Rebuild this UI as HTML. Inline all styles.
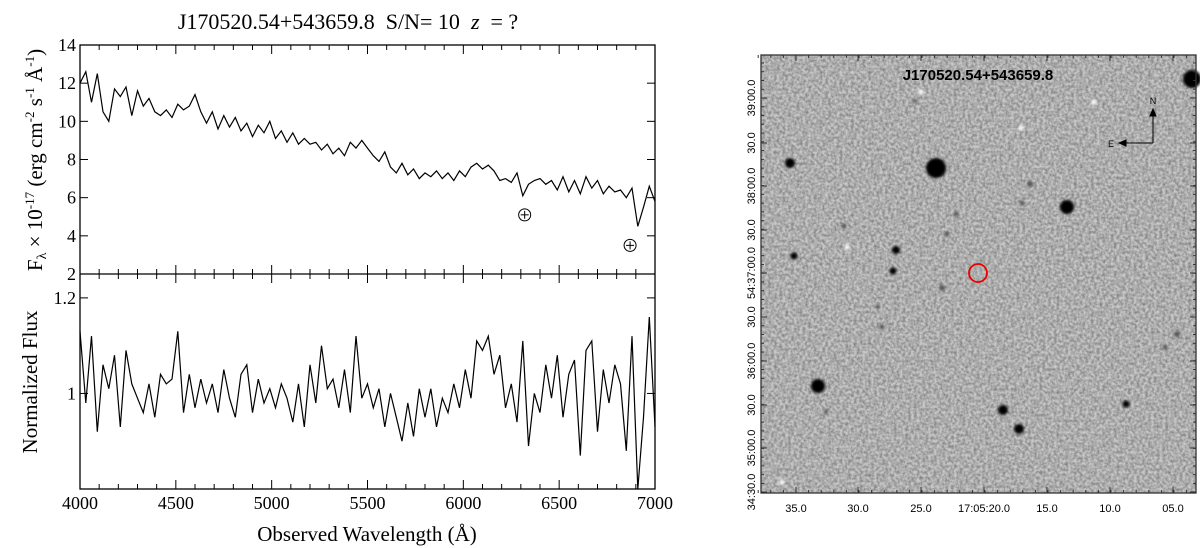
<!DOCTYPE html>
<html><head><meta charset="utf-8"><style>
body{margin:0;background:#fff;width:1200px;height:548px;overflow:hidden}
svg{position:absolute;left:0;top:0}
</style></head><body>
<svg id="s" width="1200" height="548" xmlns="http://www.w3.org/2000/svg">
<defs>
<filter id="noise" x="0" y="0" width="100%" height="100%" color-interpolation-filters="sRGB">
<feTurbulence type="fractalNoise" baseFrequency="0.35" numOctaves="2" seed="3"/>
<feColorMatrix type="matrix" values="1.6 0 0 0 -0.15  1.6 0 0 0 -0.15  1.6 0 0 0 -0.15  0 0 0 0 1"/>
</filter>
<filter id="blur"><feGaussianBlur stdDeviation="1.2"/></filter>
</defs>
<g id="spec" font-family="Liberation Serif, serif" fill="#000"></g>
<g id="img" font-family="Liberation Sans, sans-serif"></g>
</svg>
<script>
const waveStart=4000, waveStep=30;
const fluxTop=[12.0,12.6,11.0,12.5,10.5,10.0,11.7,11.3,11.8,10.3,
11.6,10.8,11.2,10.5,10.3,10.6,10.2,10.9,10.6,10.8,
11.4,10.5,9.9,10.5,9.6,10.3,9.7,10.2,9.5,9.9,
9.2,9.8,9.4,10.0,9.1,9.5,8.9,9.4,8.8,9.1,
8.8,8.9,8.5,8.8,8.3,8.6,8.2,8.9,8.6,9.0,
8.6,8.2,7.9,8.4,7.6,7.3,7.8,7.2,7.5,7.0,
7.3,7.1,7.4,7.0,7.3,6.9,7.4,7.1,7.6,7.8,
7.5,7.7,7.4,6.9,7.0,6.8,7.3,6.1,6.7,6.9,
7.0,6.7,6.9,6.4,7.1,6.3,6.9,6.2,7.1,6.5,
6.9,6.2,6.6,6.3,6.4,6.0,6.5,4.5,5.5,6.6,5.8];
const fluxNorm=[1.13,0.98,1.12,0.92,1.06,1.01,1.08,0.93,1.09,1.02,
0.99,0.96,1.02,0.95,1.04,1.02,1.03,1.13,0.96,1.04,
0.97,1.03,0.98,1.02,0.96,1.05,0.99,0.95,1.04,1.06,
0.96,1.03,0.98,1.01,0.97,1.02,0.99,0.94,1.02,0.93,
1.06,0.98,1.10,1.01,1.03,0.97,1.05,0.96,1.12,0.99,
1.02,0.97,1.01,0.93,1.00,0.95,0.90,0.98,0.91,1.01,
0.95,1.01,0.93,0.99,0.96,1.02,0.97,1.05,0.99,1.11,
1.09,1.12,1.04,1.08,0.97,1.02,0.94,1.11,0.89,1.00,
0.96,1.06,0.99,1.08,0.95,1.04,1.07,0.87,1.09,1.11,
0.92,1.05,0.98,1.06,1.02,0.88,1.12,0.79,0.95,1.16,0.93];
const xTicks=[4000,4500,5000,5500,6000,6500,7000];
const yTicksTop=[2,4,6,8,10,12,14];
const yTicksNorm=[1,1.2];
const telluric=[[6320,5.1],[6870,3.5]];

const NS="http://www.w3.org/2000/svg";
function mk(tag,attrs,parent){const e=document.createElementNS(NS,tag);for(const k in attrs)e.setAttribute(k,attrs[k]);parent.appendChild(e);return e;}
const L=80,R=655,T1=45,B1=274,T2=274,B2=489;
const X=w=>L+(w-4000)/3000*(R-L);
const Y1=v=>B1-(v-2)/12*(B1-T1);
const Y2=v=>B2-(v-0.8)/0.45*(B2-T2);
const g=document.getElementById('spec');

let t=mk('text',{x:348,y:29,'font-size':22,'text-anchor':'middle'},g);


t.style.whiteSpace='pre';
t.innerHTML='J170520.54+543659.8  S/N= 10  <tspan font-style="italic">z</tspan>  = ?';

let f=mk('rect',{x:L,y:T1,width:R-L,height:B2-T1,fill:'none',stroke:'#000','stroke-width':1.3},g);


mk('line',{x1:L,x2:R,y1:B1,y2:B1,stroke:'#000','stroke-width':1.3},g);

for(let w=4000;w<=7000;w+=100){
  const maj=w%500===0, len=maj?9:5;
  [T1,B1].forEach(y=>mk('line',{x1:X(w),x2:X(w),y1:y,y2:y+len,stroke:'#000'},g));
  [B1,B2].forEach(y=>mk('line',{x1:X(w),x2:X(w),y1:y,y2:y-len,stroke:'#000'},g));
}
xTicks.forEach(w=>{const e=mk('text',{x:X(w),y:509,'font-size':18,'text-anchor':'middle'},g);e.textContent=w;
});
yTicksTop.forEach(v=>{
  mk('line',{x1:L,x2:L+8,y1:Y1(v),y2:Y1(v),stroke:'#000'},g);
  mk('line',{x1:R,x2:R-8,y1:Y1(v),y2:Y1(v),stroke:'#000'},g);
  const e=mk('text',{x:L-4,y:Y1(v)+6,'font-size':18,'text-anchor':'end'},g);e.textContent=v;
  });
yTicksNorm.forEach(v=>{
  mk('line',{x1:L,x2:L+8,y1:Y2(v),y2:Y2(v),stroke:'#000'},g);
  mk('line',{x1:R,x2:R-8,y1:Y2(v),y2:Y2(v),stroke:'#000'},g);
  const e=mk('text',{x:L-4,y:Y2(v)+6,'font-size':18,'text-anchor':'end'},g);e.textContent=v;
  });

let p=mk('path',{d:fluxTop.map((v,i)=>(i?'L':'M')+X(waveStart+i*waveStep).toFixed(1)+','+Y1(v).toFixed(1)).join(''),fill:'none',stroke:'#000','stroke-width':1.2},g);


let p2=mk('path',{d:fluxNorm.map((v,i)=>(i?'L':'M')+X(waveStart+i*waveStep).toFixed(1)+','+Y2(Math.max(0.8,v)).toFixed(1)).join(''),fill:'none',stroke:'#000','stroke-width':1.2},g);



telluric.forEach(([w,v])=>{
  const c=mk('g',{},g);
  
  
  mk('circle',{cx:X(w),cy:Y1(v),r:6,fill:'none',stroke:'#000'},c);
  mk('line',{x1:X(w)-4,x2:X(w)+4,y1:Y1(v),y2:Y1(v),stroke:'#000'},c);
  mk('line',{x1:X(w),x2:X(w),y1:Y1(v)-4,y2:Y1(v)+4,stroke:'#000'},c);
});

let yl=mk('text',{x:0,y:0,'font-size':21,'text-anchor':'middle',transform:'translate(42,160) rotate(-90)'},g);

yl.innerHTML='F<tspan font-size="14" dy="4">λ</tspan><tspan dy="-4"> × 10</tspan><tspan font-size="13" dy="-8">-17</tspan><tspan dy="8"> (erg cm</tspan><tspan font-size="13" dy="-8">-2</tspan><tspan dy="8"> s</tspan><tspan font-size="13" dy="-8">-1</tspan><tspan dy="8"> Å</tspan><tspan font-size="13" dy="-8">-1</tspan><tspan dy="8">)</tspan>';
let yl2=mk('text',{x:0,y:0,'font-size':21,'text-anchor':'middle',transform:'translate(37,382) rotate(-90)'},g);

yl2.textContent='Normalized Flux';
let xl=mk('text',{x:367,y:541,'font-size':21,'text-anchor':'middle'},g);

xl.textContent='Observed Wavelength (Å)';

// image panel
const ig=document.getElementById('img');
const IL=761,IT=55,IR=1196,IB=493;
let bg=mk('rect',{x:IL,y:IT,width:IR-IL,height:IB-IT,fill:'#b0b0b0'},ig);

mk('rect',{x:IL,y:IT,width:IR-IL,height:IB-IT,fill:'#888',filter:'url(#noise)',opacity:0.3},ig);
const starX=[1192,790,936,1067,896,794,893,818,1003,1019,1126,1177,1165,882,956,947,844,942,1030,1022,915,826,878];
const starY=[79,163,168,207,250,256,271,386,410,429,404,334,347,327,214,234,226,288,184,203,101,412,307];
const starR=[9,5,10,7,4,3.5,3.5,7,5,5,3.5,3,2.5,2.5,2.5,2.5,2.5,3,3,2.5,2,2,2];
const sg=mk('g',{filter:'url(#blur)'},ig);
starX.forEach((x,i)=>{const c=mk('circle',{cx:x,cy:starY[i],r:starR[i],fill:starR[i]>3.2?'#000':'#555'},sg);
});
[[782,482],[847,247],[1021,128],[921,92],[1094,102]].forEach(([x,y])=>{const c=mk('circle',{cx:x,cy:y,r:2.5,fill:'#fff'},sg);
});
let rc=mk('circle',{cx:978,cy:273,r:9,fill:'none',stroke:'#e00','stroke-width':1.8},ig);

let it=mk('text',{x:978,y:80,'font-size':15,'font-weight':'bold','text-anchor':'middle'},ig);

it.textContent='J170520.54+543659.8';
const cg=mk('g',{stroke:'#000','stroke-width':1},ig);

mk('line',{x1:1153,y1:143,x2:1153,y2:111},cg);mk('line',{x1:1153,y1:143,x2:1121,y2:143},cg);
mk('path',{d:'M1150,116L1153,109L1156,116Z',fill:'#000'},cg);
mk('path',{d:'M1126,140L1119,143L1126,146Z',fill:'#000'},cg);
let tn=mk('text',{x:1153,y:104,'font-size':9,'text-anchor':'middle'},ig);tn.textContent='N';
let te=mk('text',{x:1111,y:147,'font-size':9,'text-anchor':'middle'},ig);te.textContent='E';
mk('rect',{x:IL,y:IT,width:IR-IL,height:IB-IT,fill:'none',stroke:'#333','stroke-width':1.3},ig);
const raLabels=['35.0','30.0','25.0','17:05:20.0','15.0','10.0','05.0'];
const raPos=[796,858,921,984,1047,1110,1173];
raLabels.forEach((s,i)=>{const e=mk('text',{x:raPos[i],y:512,'font-size':11,'text-anchor':'middle'},ig);e.textContent=s;

mk('line',{x1:raPos[i],x2:raPos[i],y1:IB,y2:IB-6,stroke:'#333'},ig);mk('line',{x1:raPos[i],x2:raPos[i],y1:IT,y2:IT+6,stroke:'#333'},ig);});
for(let x=raPos[0]-37.8;x<IR;x+=12.6){mk('line',{x1:x,x2:x,y1:IB,y2:IB-3,stroke:'#333'},ig);mk('line',{x1:x,x2:x,y1:IT,y2:IT+3,stroke:'#333'},ig);}
const decLabels=['39:00.0','30.0','38:00.0','30.0','54:37:00.0','30.0','36:00.0','30.0','35:00.0','34:30.0'];
const decPos=[98,143,186,230,273,317,361,405,448,492];
decLabels.forEach((s,i)=>{const e=mk('text',{x:0,y:0,'font-size':11,'text-anchor':'middle',transform:`translate(755,${decPos[i]}) rotate(-90)`},ig);e.textContent=s;

mk('line',{x1:IL,x2:IL+6,y1:decPos[i],y2:decPos[i],stroke:'#333'},ig);mk('line',{x1:IR,x2:IR-6,y1:decPos[i],y2:decPos[i],stroke:'#333'},ig);});
for(let y=decPos[0]-43.8;y<IB;y+=8.76){if(y>IT){mk('line',{x1:IL,x2:IL+3,y1:y,y2:y,stroke:'#333'},ig);mk('line',{x1:IR,x2:IR-3,y1:y,y2:y,stroke:'#333'},ig);}}
</script>
</body></html>
